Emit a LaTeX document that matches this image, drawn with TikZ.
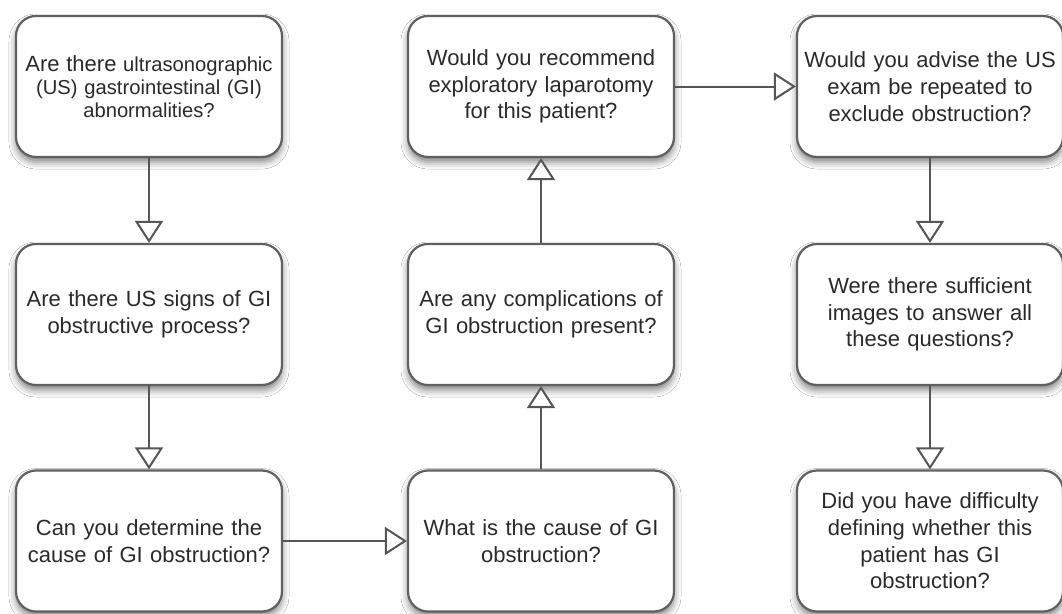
\documentclass[tikz,border=0pt]{standalone}
\usepackage{fontspec}
\setmainfont{Liberation Sans}
\usetikzlibrary{arrows.meta,shadows.blur}
\definecolor{boxline}{HTML}{606060}
\definecolor{txt}{HTML}{2A2A2A}
\definecolor{conn}{HTML}{555555}
\tikzset{
  qbox/.style={draw=boxline, line width=2.2pt, rounded corners=20pt, fill=white,
    minimum width=266pt, minimum height=141pt, inner sep=0pt, text width=262pt,
    align=center, text=txt, font=\fontsize{22}{26.7}\selectfont,
    blur shadow={shadow xshift=0pt, shadow yshift=-5pt, shadow blur radius=7pt, shadow opacity=50}},
  flow/.style={draw=conn, line width=2pt, -{Triangle[length=22pt,width=28pt,fill=white]}}
}
\begin{document}
\begin{tikzpicture}
\fill[white] (0,0) rectangle (1062pt,-613pt);
\useasboundingbox (0,0) rectangle (1062pt,-613pt);
\node[qbox, font=\fontsize{20.2}{23.3}\selectfont] (b1) at (149pt,-86.5pt) {{\fontsize{22}{23.3}\selectfont Are there} ultrasonographic\\(US) gastrointestinal (GI)\\abnormalities?};
\node[qbox] (b2) at (149pt,-314.5pt) {Are there US signs of GI\\obstructive process?};
\node[qbox] (b3) at (149pt,-541pt) {Can you determine the\\cause of GI obstruction?};
\node[qbox] (b4) at (541pt,-541pt) {What is the cause of GI\\obstruction?};
\node[qbox] (b5) at (541pt,-314.5pt) {Are any complications of\\GI obstruction present?};
\node[qbox] (b6) at (541pt,-86.5pt) {Would you recommend\\exploratory laparotomy\\for this patient?};
\node[qbox] (b7) at (930pt,-86.5pt) {Would you advise the US\\exam be repeated to\\exclude obstruction?};
\node[qbox] (b8) at (930pt,-314.5pt) {Were there sufficient\\images to answer all\\these questions?};
\node[qbox] (b9) at (930pt,-541pt) {Did you have difficulty\\defining whether this\\patient has GI\\obstruction?};
\draw[flow] (b1) -- (b2);
\draw[flow] (b2) -- (b3);
\draw[flow] (b3) -- (b4);
\draw[flow] (b4) -- (b5);
\draw[flow] (b5) -- (b6);
\draw[flow] (b6) -- (b7);
\draw[flow] (b7) -- (b8);
\draw[flow] (b8) -- (b9);
\end{tikzpicture}
\end{document}
